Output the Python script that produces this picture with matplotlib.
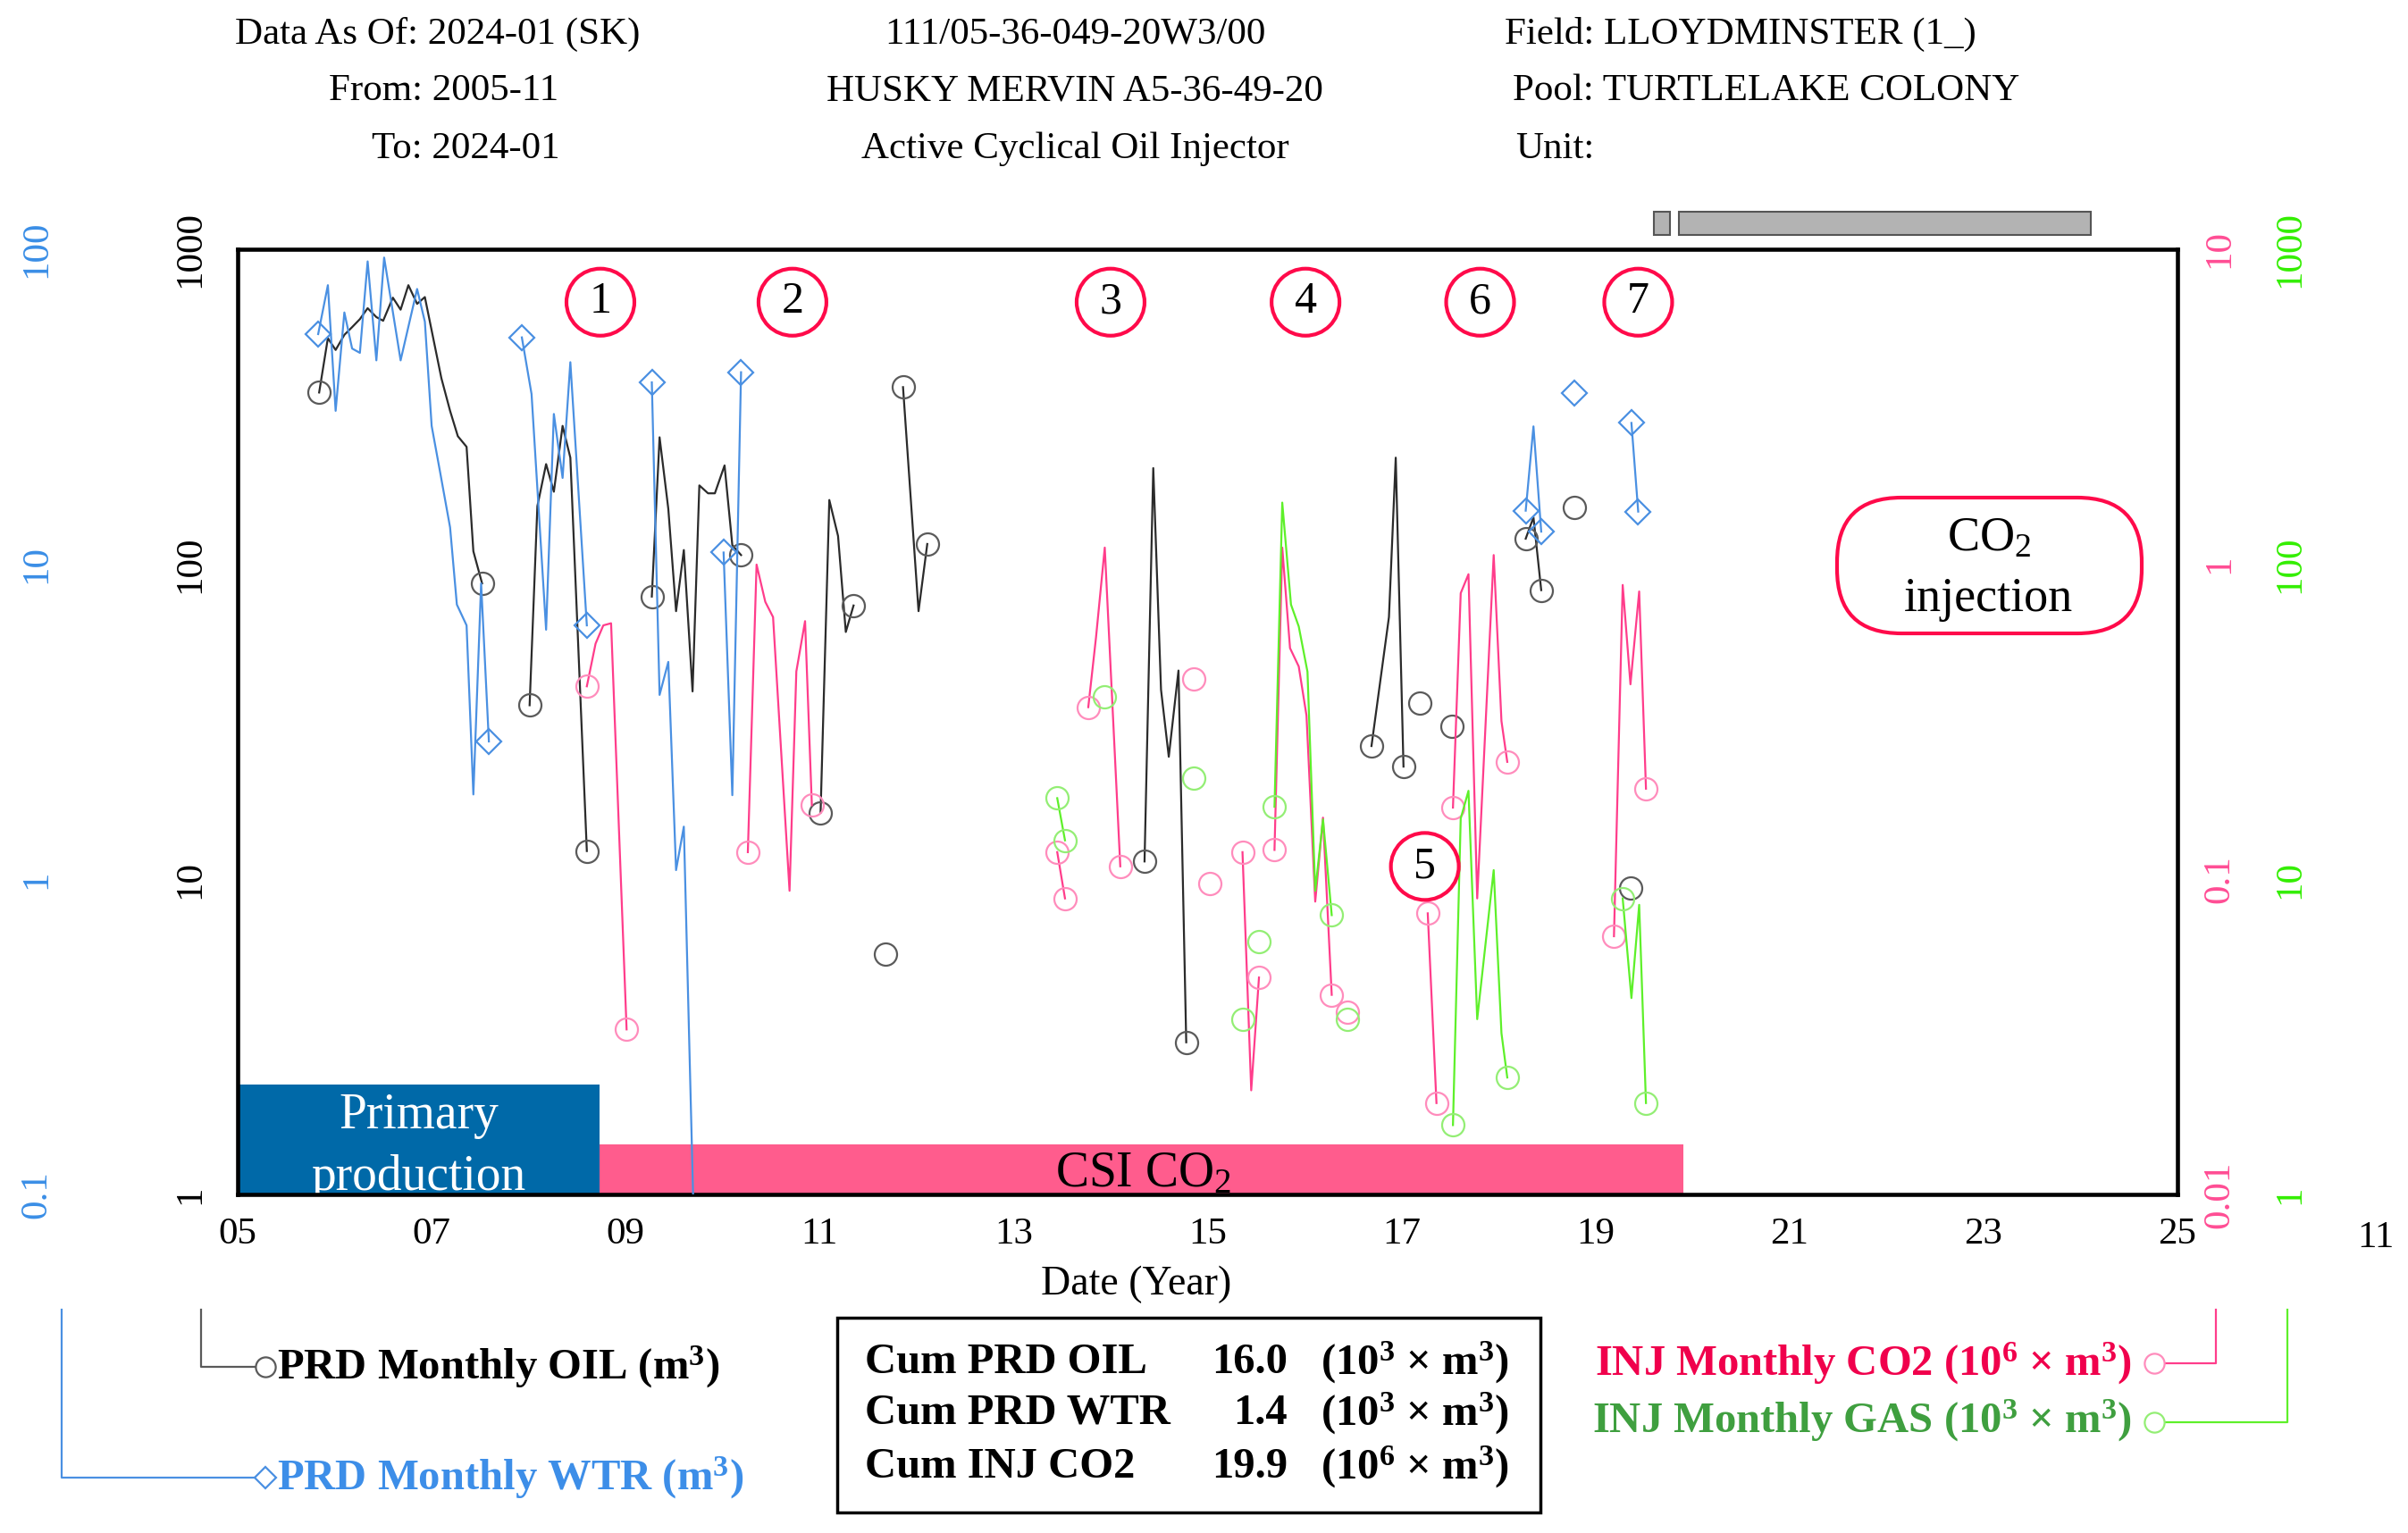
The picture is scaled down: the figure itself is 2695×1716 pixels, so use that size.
import numpy as np
import matplotlib.pyplot as plt
from matplotlib.patches import Rectangle, Ellipse, FancyBboxPatch
from matplotlib.lines import Line2D
from matplotlib.ticker import FixedLocator, NullLocator

plt.rcParams["font.family"] = ["Liberation Serif", "DejaVu Serif"]
plt.rcParams["mathtext.fontset"] = "custom"
plt.rcParams["mathtext.rm"] = "Liberation Serif"
plt.rcParams["mathtext.it"] = "Liberation Serif:italic"
plt.rcParams["mathtext.bf"] = "Liberation Serif:bold"

nan = np.nan

# monthly volumes, nan = month without volume (breaks the line)
oil_year = [2005.84, 2005.93, 2006.01, 2006.10, 2006.18, 2006.26, 2006.34, 2006.43, 2006.50,
            2006.60, 2006.68, 2006.76, 2006.85, 2006.93, 2007.10, 2007.19, 2007.27,
            2007.36, 2007.43, 2007.52, nan,
            2008.01, 2008.09, 2008.18, 2008.26, 2008.35, 2008.43, 2008.60, nan,
            2009.27, 2009.35, 2009.44, 2009.52, 2009.60, 2009.69, 2009.76, 2009.85, 2009.92,
            2010.02, 2010.10, 2010.19, nan,
            2011.01, 2011.10, 2011.19, 2011.27, 2011.35, nan,
            2011.68, nan,
            2011.86, 2012.02, 2012.11, nan,
            2014.35, 2014.44, 2014.52, 2014.60, 2014.70, 2014.78, nan,
            2016.69, 2016.87, 2016.94, 2017.02, nan,
            2017.19, nan,
            2017.52, nan,
            2018.28, 2018.36, 2018.44, nan,
            2018.78, nan,
            2019.36]
oil_m3 = [351, 522, 479, 535, 566, 600, 650, 609, 593,
          702, 643, 769, 671, 705, 390, 307, 255,
          236, 110, 87, nan,
          35.7, 153, 208, 170, 275, 218, 12.3, nan,
          79, 253, 150, 71, 111, 39.5, 178, 168, 168,
          206, 115, 107, nan,
          16.3, 160, 123, 61, 74, nan,
          5.8, nan,
          365, 71, 116, nan,
          11.4, 202, 40, 24.5, 46, 3.04, nan,
          26.5, 68, 218, 22.8, nan,
          36.3, nan,
          30.7, nan,
          120.6, 141, 82.8, nan,
          152, nan,
          9.4]

wtr_year = [2005.83, 2005.93, 2006.01, 2006.10, 2006.18, 2006.26, 2006.34, 2006.43, 2006.51,
            2006.68, 2006.85, 2006.93, 2007.00, 2007.09, 2007.19, 2007.26,
            2007.36, 2007.43, 2007.51, 2007.59, nan,
            2007.93, 2008.03, 2008.18, 2008.26, 2008.35, 2008.43, 2008.60, nan,
            2009.27, 2009.35, 2009.44, 2009.52, 2009.60, 2009.72, nan,
            2010.01, 2010.10, 2010.19, nan,
            2018.28, 2018.36, 2018.44, nan,
            2018.78, nan,
            2019.37, 2019.44]
wtr_m3 = [53.8, 76.9, 30.7, 63, 48.4, 46.9, 91.5, 44.4, 94.1,
          44.4, 74.8, 58.9, 27.5, 19.4, 13.1, 7.45,
          6.4, 1.86, 8.7, 2.74, nan,
          52.5, 34.7, 6.2, 30, 18.8, 43.8, 6.4, nan,
          37.8, 3.85, 4.9, 1.07, 1.47, 0.05, nan,
          10.9, 1.85, 40.7, nan,
          14.8, 27.4, 12.7, nan,
          35, nan,
          28.1, 14.7]

co2_year = [2008.60, 2008.69, 2008.77, 2008.85, 2009.01, nan,
            2010.26, 2010.35, 2010.44, 2010.52, 2010.69, 2010.76, 2010.85, 2010.92, nan,
            2013.45, 2013.53, nan,
            2013.77, 2013.85, 2013.94, 2014.10, nan,
            2014.86, nan,
            2015.02, nan,
            2015.36, 2015.45, 2015.53, nan,
            2015.69, 2015.77, 2015.85, 2015.94, 2016.02, 2016.11, 2016.19, 2016.28, nan,
            2016.44, nan,
            2017.27, 2017.36, nan,
            2017.53, 2017.61, 2017.69, 2017.78, 2017.95, 2018.03, 2018.09, nan,
            2019.19, 2019.28, 2019.36, 2019.45, 2019.52]
co2_e6m3 = [0.41, 0.56, 0.64, 0.65, 0.0334, nan,
            0.122, 0.998, 0.76, 0.68, 0.092, 0.457, 0.66, 0.172, nan,
            0.122, 0.087, nan,
            0.352, 0.587, 1.13, 0.11, nan,
            0.434, nan,
            0.097, nan,
            0.122, 0.0214, 0.0488, nan,
            0.124, 1.13, 0.542, 0.474, 0.331, 0.085, 0.157, 0.043, nan,
            0.038, nan,
            0.078, 0.0195, nan,
            0.169, 0.81, 0.93, 0.087, 1.07, 0.318, 0.236, nan,
            0.066, 0.86, 0.416, 0.82, 0.194]

gas_year = [2013.45, 2013.53, nan,
            2013.94, nan,
            2014.86, nan,
            2015.36, nan,
            2015.53, nan,
            2015.69, 2015.77, 2015.86, 2015.94, 2016.03, 2016.11, 2016.19, 2016.28, nan,
            2016.44, nan,
            2017.53, 2017.61, 2017.69, 2017.78, 2017.95, 2018.03, 2018.09, nan,
            2019.28, 2019.37, 2019.45, 2019.52]
gas_e3m3 = [18.1, 13.3, nan,
            38, nan,
            21, nan,
            3.6, nan,
            6.35, nan,
            17, 157, 74.5, 63.5, 45.6, 9.2, 15.5, 7.7, nan,
            3.6, nan,
            1.66, 15.6, 19.1, 3.6, 10.7, 3.25, 2.35, nan,
            8.7, 4.2, 8.3, 1.95]

x_ticks = [2005, 2007, 2009, 2011, 2013, 2015, 2017, 2019, 2021, 2023, 2025]
x_tick_labels = ["05", "07", "09", "11", "13", "15", "17", "19", "21", "23", "25"]

# operating phases / events
phase_names = ["Primary production", "CSI CO$_2$"]
phase_start = [2005.0, 2008.73]
phase_end = [2008.73, 2019.91]
status_start = [2019.60, 2019.86]
status_end = [2019.77, 2024.11]
event_labels = ["1", "2", "3", "4", "5", "6", "7"]
event_year = [2008.74, 2010.72, 2014.00, 2016.01, 2017.24, 2017.81, 2019.44]
event_level = [0.944, 0.944, 0.944, 0.944, 0.347, 0.944, 0.944]

cum_names = ["Cum PRD OIL", "Cum PRD WTR", "Cum INJ CO2"]
cum_values = ["16.0", "1.4", "19.9"]
cum_units = ["(10$^3$ × m$^3$)", "(10$^3$ × m$^3$)", "(10$^6$ × m$^3$)"]

BLACK = "#2b2b2b"
GREY = "#5a5a5a"
BLUE = "#4a90e2"
PINK = "#ff3d8b"
PINK_M = "#ff8cbc"
GREEN = "#5ef02a"
GREEN_M = "#93ee74"
RED = "#ff0a4a"

W, H = 2695, 1716
fig = plt.figure(figsize=(W / 100, H / 100), dpi=100)


def fx(x):
    return x / W


def fy(y):
    return 1 - y / H


ax = fig.add_axes([fx(266), fy(1337), fx(2437) - fx(266), fy(279) - fy(1337)])


def segments(x, y):
    x = np.asarray(x, float)
    y = np.asarray(y, float)
    out, start = [], 0
    for b in list(np.where(np.isnan(x))[0]) + [len(x)]:
        if b > start:
            out.append((x[start:b], y[start:b]))
        start = b + 1
    return out


def draw_series(a, x, y, color, mcolor, marker, ms):
    a.plot(x, y, color=color, lw=1.6, zorder=3)
    for sx, sy in segments(x, y):
        idx = [0, len(sx) - 1] if len(sx) > 1 else [0]
        a.plot(sx[idx], sy[idx], ls="none", marker=marker, ms=ms, mfc="none",
               mec=mcolor, mew=1.6, zorder=4)


def log_axis(a, lo, hi, labels, color, side, pad):
    a.set_yscale("log")
    a.set_ylim(lo, hi)
    vals = [lo * 10 ** i for i in range(len(labels))]
    a.yaxis.set_major_locator(FixedLocator(vals))
    a.yaxis.set_minor_locator(NullLocator())
    a.set_yticklabels(labels)
    if side == "left":
        a.yaxis.tick_left()
    else:
        a.yaxis.tick_right()
    a.tick_params(axis="y", which="both", length=0, pad=pad, labelsize=31,
                  labelcolor=color, labelrotation=90)
    for t in a.get_yticklabels():
        t.set_va("center")


ax.set_xlim(2005, 2025)
ax.set_xticks(x_ticks)
ax.set_xticklabels(x_tick_labels)
ax.tick_params(axis="x", length=0, pad=18, labelsize=31)
log_axis(ax, 1, 1000, ["1", "10", "100", "1000"], "black", "left", 24)
for s in ax.spines.values():
    s.set_linewidth(3.3)
    s.set_color("black")
    s.set_zorder(5)

ax_w = ax.twinx()
log_axis(ax_w, 0.1, 100, ["0.1", "1", "10", "100"], "#3a8ee6", "left", 148)
ax_c = ax.twinx()
log_axis(ax_c, 0.01, 10, ["0.01", "0.1", "1", "10"], "#ff4d94", "right", 20)
ax_g = ax.twinx()
log_axis(ax_g, 1, 1000, ["1", "10", "100", "1000"], "#33ee00", "right", 77)
for a in (ax_w, ax_c, ax_g):
    for s in a.spines.values():
        s.set_visible(False)

# phase bands along the bottom
xt = ax.get_xaxis_transform()
ax.add_patch(Rectangle((phase_start[0], 0), phase_end[0] - phase_start[0], 0.116,
                       transform=xt, color="#0069a8", lw=0, zorder=1))
ax.add_patch(Rectangle((phase_start[1], 0), phase_end[1] - phase_start[1], 0.053,
                       transform=xt, color="#ff5c8d", lw=0, zorder=1))
mid0 = (phase_start[0] + phase_end[0]) / 2
ax.text(mid0, 0.070, "Primary", transform=xt, ha="center", va="baseline",
        color="white", fontsize=40, zorder=2, clip_on=True)
ax.text(mid0, 0.005, "production", transform=xt, ha="center", va="baseline",
        color="white", fontsize=40, zorder=2, clip_on=True)
ax.text(2014.34, 0.008, phase_names[1], transform=xt, ha="center", va="baseline",
        color="black", fontsize=40, zorder=2, clip_on=True)

# status bars above the frame
for s0, s1 in zip(status_start, status_end):
    ax.add_patch(Rectangle((s0, 1.015), s1 - s0, 0.0246, transform=xt, clip_on=False,
                           facecolor="#b3b3b3", edgecolor="#555555", lw=1.5))

draw_series(ax, oil_year, oil_m3, BLACK, GREY, "o", 18)
draw_series(ax_w, wtr_year, wtr_m3, BLUE, BLUE, "D", 14)
draw_series(ax_c, co2_year, co2_e6m3, PINK, PINK_M, "o", 18)
draw_series(ax_g, gas_year, gas_e3m3, GREEN, GREEN_M, "o", 18)

# numbered cycle markers
xg = ax_g.get_xaxis_transform()
for lab, yr, lv in zip(event_labels, event_year, event_level):
    ax_g.add_patch(Ellipse((yr, lv), 0.70, 0.0709, transform=xg, facecolor="none",
                           edgecolor=RED, lw=3, zorder=6, clip_on=False))
    ax_g.text(yr, lv, lab, transform=xg, ha="center", va="center", fontsize=36, zorder=7)

# CO2 injection tag
fig.add_artist(FancyBboxPatch((20.56, 10.07), 3.41, 1.52,
                              boxstyle="round,pad=0,rounding_size=0.72",
                              transform=fig.dpi_scale_trans, facecolor="white",
                              edgecolor=RED, lw=3, zorder=6))
fig.text(fx(2226), fy(617), "CO$_2$", ha="center", va="baseline", fontsize=39, zorder=7)
fig.text(fx(2226), fy(684), "injection", ha="center", va="baseline", fontsize=39, zorder=7)

# header
hdr = 31
fig.text(fx(263), fy(38), "Data As Of: 2024-01 (SK)", fontsize=hdr, va="center")
fig.text(fx(368), fy(102), "From: 2005-11", fontsize=hdr, va="center")
fig.text(fx(416), fy(167), "To: 2024-01", fontsize=hdr, va="center")
fig.text(fx(1203), fy(38), "111/05-36-049-20W3/00", fontsize=hdr, va="center", ha="center")
fig.text(fx(1203), fy(102), "HUSKY MERVIN A5-36-49-20", fontsize=hdr, va="center", ha="center")
fig.text(fx(1203), fy(167), "Active Cyclical Oil Injector", fontsize=hdr, va="center", ha="center")
fig.text(fx(1684), fy(38), "Field: LLOYDMINSTER (1_)", fontsize=hdr, va="center")
fig.text(fx(1693), fy(102), "Pool: TURTLELAKE COLONY", fontsize=hdr, va="center")
fig.text(fx(1696), fy(167), "Unit:", fontsize=hdr, va="center")

fig.text(fx(1272), fy(1438), "Date (Year)", fontsize=33, ha="center", va="center")
fig.text(fx(2659), fy(1386), "11", fontsize=31, ha="center", va="center")


# legend connectors
def connector(xs, ys, color, marker, mcolor, ms):
    fig.add_artist(Line2D([fx(v) for v in xs], [fy(v) for v in ys], color=color, lw=1.6))
    fig.add_artist(Line2D([fx(xs[-1])], [fy(ys[-1])], ls="none", marker=marker, ms=ms,
                          mfc="white", mec=mcolor, mew=1.6))


connector([225, 225, 297], [1466, 1530, 1530], GREY, "o", GREY, 16)
connector([69, 69, 297], [1466, 1654, 1654], BLUE, "D", BLUE, 12)
connector([2480, 2480, 2411], [1466, 1526, 1526], PINK, "o", PINK_M, 16)
connector([2560, 2560, 2411], [1466, 1592, 1592], GREEN, "o", GREEN_M, 16)

lg = 35
fig.text(fx(310), fy(1530), r"PRD Monthly OIL (m$^{\mathbf{3}}$)", fontsize=lg,
         fontweight="bold", va="center", color="black")
fig.text(fx(310), fy(1654), r"PRD Monthly WTR (m$^{\mathbf{3}}$)", fontsize=lg,
         fontweight="bold", va="center", color="#3d8ee8")
fig.text(fx(2386), fy(1526), r"INJ Monthly CO2 (10$^{\mathbf{6}}$ × m$^{\mathbf{3}}$)",
         fontsize=lg, fontweight="bold", va="center", ha="right", color="#f0004c")
fig.text(fx(2386), fy(1590), r"INJ Monthly GAS (10$^{\mathbf{3}}$ × m$^{\mathbf{3}}$)",
         fontsize=lg, fontweight="bold", va="center", ha="right", color="#3f9f3f")

# cumulative box
fig.add_artist(Rectangle((fx(937), fy(1693)), fx(1724) - fx(937), fy(1475) - fy(1693),
                         transform=fig.transFigure, facecolor="none", edgecolor="black",
                         lw=2.5))
for i, yy in enumerate([1525, 1582, 1642]):
    fig.text(fx(968), fy(yy), cum_names[i], fontsize=lg, fontweight="bold", va="center")
    fig.text(fx(1441), fy(yy), cum_values[i], fontsize=lg, fontweight="bold", va="center",
             ha="right")
    unit = cum_units[i].replace("$^3$", r"$^{\mathbf{3}}$").replace("$^6$", r"$^{\mathbf{6}}$")
    fig.text(fx(1478), fy(yy), unit, fontsize=lg, fontweight="bold", va="center")

fig.savefig("out.png", dpi=100)
